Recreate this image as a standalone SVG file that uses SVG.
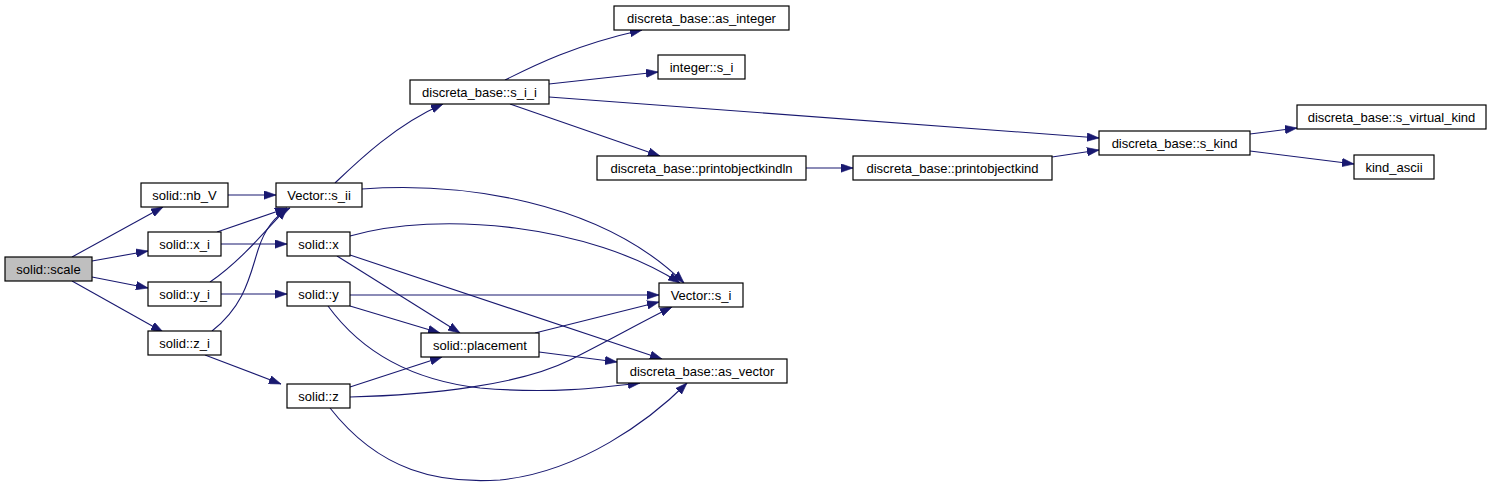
<svg xmlns="http://www.w3.org/2000/svg" width="1496" height="485" viewBox="0 0 1496 485">
<style>
.n rect{fill:#ffffff;stroke:#000000;stroke-width:1.2}
.n.hl rect{fill:#bfbfbf}
.n text{font-family:"Liberation Sans",Arial,sans-serif;font-size:13px;text-anchor:middle;fill:#000000}
.e path{fill:none;stroke:#191970;stroke-width:1.1;marker-end:url(#ah)}
</style>
<defs>
<marker id="ah" markerUnits="userSpaceOnUse" markerWidth="12" markerHeight="9" viewBox="0 0 10 7" refX="10" refY="3.5" orient="auto">
<path d="M0,0 L10,3.5 L0,7 z" fill="#191970" stroke="#191970" stroke-width="0.5"/>
</marker>
</defs>
<rect width="1496" height="485" fill="#ffffff"/>
<g id="edges" class="e">
<path d="M72,257 L163,207"/>
<path d="M92,261 L148,251"/>
<path d="M92,277 L148,288"/>
<path d="M72,281 L163,332"/>
<path d="M228,195 L276,195"/>
<path d="M217,232 L287,208"/>
<path d="M221,244 L287,244"/>
<path d="M210,282 C235,265 255,243 287,208"/>
<path d="M221,294 L287,294"/>
<path d="M212,331 C245,305 250,275 258,250 C265,228 275,216 290,208"/>
<path d="M205,355 L281,384"/>
<path d="M335,183 C357,162 395,125 443,104"/>
<path d="M362,189 C460,182 600,200 684,283"/>
<path d="M350,236 C440,210 590,225 680,283"/>
<path d="M337,256 L460,333"/>
<path d="M350,255 L662,359"/>
<path d="M350,295 L659,295"/>
<path d="M350,306 L440,333"/>
<path d="M328,306 C360,350 410,380 480,388 C550,394 600,388 640,383"/>
<path d="M350,387 L442,357"/>
<path d="M350,397 C430,395 520,385 570,360 C610,340 645,320 672,307"/>
<path d="M330,408 C380,472 440,484 500,480 C580,472 650,420 687,383"/>
<path d="M535,333 L659,302"/>
<path d="M539,352 L617,362"/>
<path d="M505,80 C535,65 575,45 642,30"/>
<path d="M549,84 L658,72"/>
<path d="M549,97 L1099,138"/>
<path d="M510,104 L660,156"/>
<path d="M806,168 L853,168"/>
<path d="M1052,157 L1099,150"/>
<path d="M1250,134 L1297,128"/>
<path d="M1250,151 L1354,164"/>
</g>
<g id="n_scale" class="n hl"><rect x="5" y="257" width="87" height="24"/><text x="48.5" y="273.5">solid::scale</text></g>
<g id="n_nbV" class="n"><rect x="141" y="183" width="87" height="24"/><text x="184.5" y="199.5">solid::nb_V</text></g>
<g id="n_xi" class="n"><rect x="148" y="232" width="73" height="24"/><text x="184.5" y="248.5">solid::x_i</text></g>
<g id="n_yi" class="n"><rect x="148" y="282" width="73" height="24"/><text x="184.5" y="298.5">solid::y_i</text></g>
<g id="n_zi" class="n"><rect x="148" y="331" width="73" height="24"/><text x="184.5" y="347.5">solid::z_i</text></g>
<g id="n_sii" class="n"><rect x="276" y="183" width="86" height="24"/><text x="319" y="199.5">Vector::s_ii</text></g>
<g id="n_x" class="n"><rect x="287" y="232" width="63" height="24"/><text x="318.5" y="248.5">solid::x</text></g>
<g id="n_y" class="n"><rect x="287" y="282" width="63" height="24"/><text x="318.5" y="298.5">solid::y</text></g>
<g id="n_z" class="n"><rect x="287" y="384" width="63" height="24"/><text x="318.5" y="400.5">solid::z</text></g>
<g id="n_placement" class="n"><rect x="421" y="333" width="118" height="24"/><text x="480" y="349.5">solid::placement</text></g>
<g id="n_vsi" class="n"><rect x="659" y="283" width="84" height="24"/><text x="701" y="299.5">Vector::s_i</text></g>
<g id="n_asvector" class="n"><rect x="617" y="359" width="170" height="24"/><text x="702" y="375.5">discreta_base::as_vector</text></g>
<g id="n_sii2" class="n"><rect x="410" y="80" width="139" height="24"/><text x="479.5" y="96.5">discreta_base::s_i_i</text></g>
<g id="n_asinteger" class="n"><rect x="614" y="6" width="175" height="24"/><text x="701.5" y="22.5">discreta_base::as_integer</text></g>
<g id="n_intsi" class="n"><rect x="658" y="55" width="87" height="24"/><text x="701.5" y="71.5">integer::s_i</text></g>
<g id="n_pokln" class="n"><rect x="597" y="156" width="209" height="24"/><text x="701.5" y="172.5">discreta_base::printobjectkindln</text></g>
<g id="n_pok" class="n"><rect x="853" y="156" width="199" height="24"/><text x="952.5" y="172.5">discreta_base::printobjectkind</text></g>
<g id="n_skind" class="n"><rect x="1099" y="131" width="151" height="24"/><text x="1174.5" y="147.5">discreta_base::s_kind</text></g>
<g id="n_svk" class="n"><rect x="1297" y="105" width="189" height="24"/><text x="1391.5" y="121.5">discreta_base::s_virtual_kind</text></g>
<g id="n_kindascii" class="n"><rect x="1354" y="155" width="80" height="24"/><text x="1394" y="171.5">kind_ascii</text></g>
</svg>
